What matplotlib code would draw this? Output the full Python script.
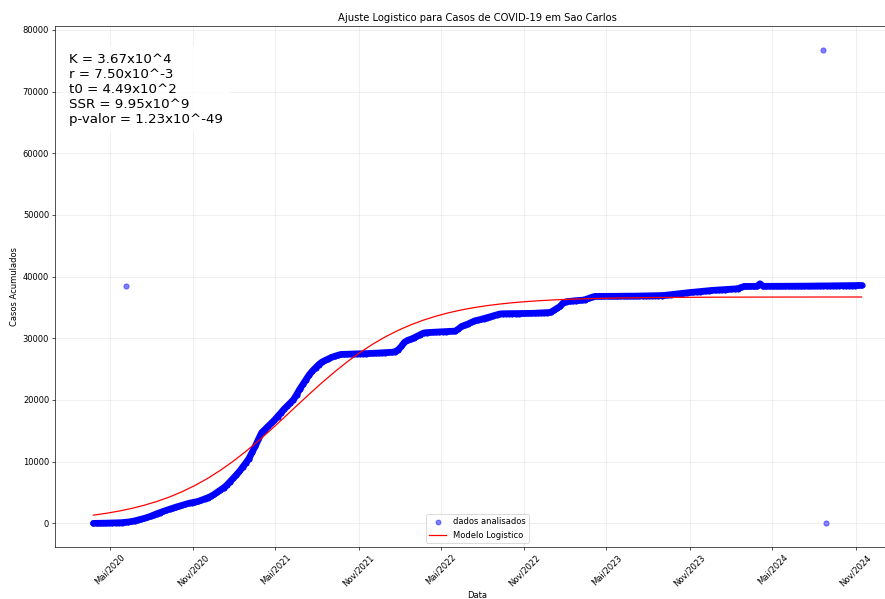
import matplotlib
matplotlib.use("Agg")
import matplotlib.pyplot as plt
import pandas as pd

# casos acumulados, uma leitura por semana a partir de 26/03/2020
inicio = pd.Timestamp("2020-03-26")
casos = [
    0, 5, 10, 20, 35, 50, 65, 80, 95, 115,
    160, 220, 300, 400, 530, 660, 800, 960, 1140, 1360,
    1565, 1750, 1930, 2110, 2290, 2460, 2630, 2780, 2930, 3090,
    3240, 3350, 3460, 3560, 3750, 3950, 4150, 4370, 4680, 5040,
    5390, 5750, 6180, 6730, 7280, 7830, 8420, 9100, 9780, 10510,
    11520, 12530, 13620, 14700, 15200, 15700, 16210, 16720, 17290, 17880,
    18480, 19000, 19520, 20030, 20860, 21750, 22550, 23320, 24090, 24710,
    25230, 25750, 26150, 26410, 26670, 26910, 27080, 27250, 27390, 27410,
    27430, 27450, 27460, 27480, 27500, 27510, 27530, 27550, 27570, 27600,
    27630, 27650, 27680, 27710, 27740, 27840, 28120, 28680, 29360, 29680,
    29860, 30080, 30340, 30600, 30860, 30930, 30960, 30990, 31020, 31060,
    31080, 31100, 31120, 31150, 31170, 31520, 31930, 32130, 32320, 32570,
    32810, 32930, 33060, 33210, 33360, 33500, 33650, 33800, 33950, 33990,
    34000, 34000, 34010, 34020, 34020, 34030, 34030, 34040, 34050, 34070,
    34100, 34120, 34150, 34170, 34200, 34520, 34840, 35170, 35750, 35940,
    35990, 36050, 36110, 36150, 36180, 36280, 36470, 36660, 36790, 36800,
    36800, 36810, 36810, 36820, 36820, 36820, 36830, 36830, 36840, 36840,
    36850, 36850, 36860, 36870, 36880, 36890, 36900, 36920, 36930, 36940,
    36970, 37030, 37090, 37150, 37200, 37260, 37320, 37380, 37430, 37480,
    37530, 37580, 37640, 37690, 37740, 37780, 37810, 37850, 37880, 37910,
    37950, 37980, 38010, 38060, 38240, 38410, 38410, 38420, 38420, 38430,
    38850, 38430, 38440, 38440, 38440, 38450, 38450, 38450, 38450, 38450,
    38460, 38460, 38460, 38460, 38460, 38470, 38480, 38480, 38490, 38500,
    38500, 38510, 38510, 38520, 38530, 38530, 38540, 38540, 38550, 38560,
    38560, 38570, 38570,
]

# pontos soltos (erros de registro)
outliers_datas = ["2020-06-05", "2024-08-22", "2024-08-27"]
outliers_casos = [38400, 76800, 0]

# modelo logistico lido a cada 28 dias (+ ultimo dia)
modelo_dias = list(range(0, 1681, 28)) + [1694]
modelo = [
    1324, 1620, 1978, 2411, 2929, 3547, 4279, 5139, 6139, 7289,
    8593, 10052, 11654, 13384, 15216, 17114, 19038, 20947, 22801, 24563,
    26205, 27705, 29053, 30248, 31290, 32188, 32956, 33605, 34152, 34607,
    34986, 35298, 35555, 35767, 35938, 36080, 36197, 36290, 36367, 36430,
    36481, 36522, 36556, 36583, 36605, 36623, 36638, 36649, 36659, 36667,
    36673, 36678, 36682, 36685, 36688, 36690, 36691, 36693, 36694, 36695,
    36696, 36696,
]

ticks = ["2020-05-01", "2020-11-01", "2021-05-01", "2021-11-01", "2022-05-01",
         "2022-11-01", "2023-05-01", "2023-11-01", "2024-05-01", "2024-11-01"]
rotulos = ["Mai/2020", "Nov/2020", "Mai/2021", "Nov/2021", "Mai/2022",
           "Nov/2022", "Mai/2023", "Nov/2023", "Mai/2024", "Nov/2024"]

texto = ("K = 3.67x10^4\nr = 7.50x10^-3\nt0 = 4.49x10^2\n"
         "SSR = 9.95x10^9\np-valor = 1.23x10^-49")

datas = pd.date_range(inicio, periods=len(casos), freq="7D")
datas_modelo = inicio + pd.to_timedelta(modelo_dias, unit="D")

fig = plt.figure(figsize=(885 / 60, 599 / 60), dpi=60)
# the original figure was cut on the right, the axes go past the edge
ax = fig.add_axes([55 / 885, 52 / 599, 845 / 885, 521 / 599])

# the original has one dot per day, which merges into a solid band;
# a thick line under the weekly dots gives the same look
ax.plot(datas, casos, color="blue", lw=8, solid_capstyle="round",
        solid_joinstyle="round")
ax.scatter(datas, casos, s=40, color="blue", alpha=1.0, label="dados analisados")
ax.scatter(pd.to_datetime(outliers_datas), outliers_casos, s=40, color="blue", alpha=0.5)
ax.plot(datas_modelo, modelo, color="red", label="Modelo Logistico")

ax.set_xticks(pd.to_datetime(ticks))
ax.set_xticklabels(rotulos, rotation=45)
ax.grid(True, alpha=0.3)

ax.set_title("Ajuste Logistico para Casos de COVID-19 em Sao Carlos")
ax.set_xlabel("Data")
ax.set_ylabel("Casos Acumulados")

ax.text(0.016, 0.948, texto, transform=ax.transAxes, fontsize=16, va="top",
        bbox=dict(boxstyle="square,pad=0.5", facecolor="white", alpha=0.8,
                  edgecolor="none"))

leg = ax.legend(loc="lower center")
leg.legend_handles[0].set_alpha(0.5)
leg.legend_handles[0].set_sizes([36])

fig.savefig("out.png", dpi=60)
